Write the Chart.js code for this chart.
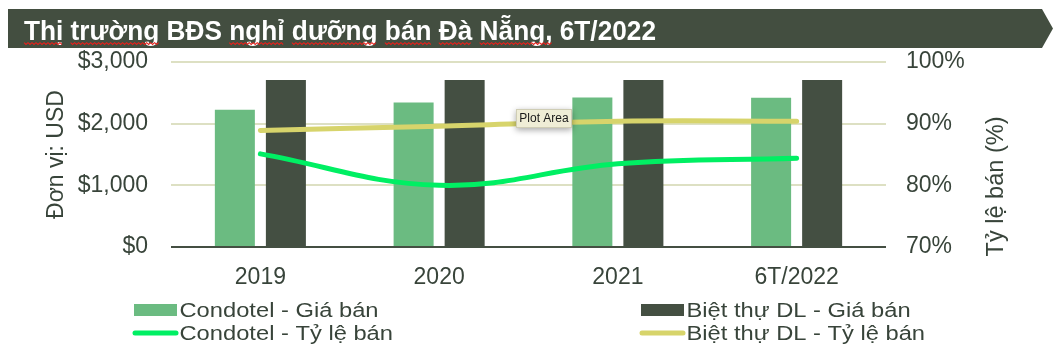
<!DOCTYPE html>
<html>
<head>
<meta charset="utf-8">
<script src="https://cdn.jsdelivr.net/npm/chart.js@4/dist/chart.umd.min.js"></script>
<style>
  html, body { margin: 0; padding: 0; background: #ffffff; }
  #wrap { width: 1063px; height: 361px; position: relative; }
</style>
</head>
<body>
<div id="wrap"><canvas id="c" width="1063" height="361"></canvas></div>
<script>
// ---- data ----
const titleText = 'Thị trường BĐS nghỉ dưỡng bán Đà Nẵng, 6T/2022';
const categories = ['2019', '2020', '2021', '6T/2022'];
const condotelPrice = [2225, 2345, 2425, 2420];
const villaPrice = [2710, 2710, 2710, 2710];
const condotelRate = [85.1, 80.0, 83.5, 84.4];
const villaRate = [88.9, 89.6, 90.4, 90.4];
const seriesLabels = ['Condotel - Giá bán', 'Biệt thự DL - Giá bán', 'Condotel - Tỷ lệ bán', 'Biệt thự DL - Tỷ lệ bán'];
const leftTickLabels = ['$0', '$1,000', '$2,000', '$3,000'];
const rightTickLabels = ['70%', '80%', '90%', '100%'];
const leftAxisTitle = 'Đơn vị: USD';
const rightAxisTitle = 'Tỷ lệ bán (%)';
const hoverNote = 'Plot Area';

// ---- styles ----
const FONT = "'Liberation Sans', Arial, sans-serif";
const TEXT = '#38443a';
const C_COND = '#6bbb81';
const C_VILLA = '#444f42';
const C_COND_LINE = '#00ef63';
const C_VILLA_LINE = '#d7d46b';
const C_GRID = '#dde0c3';

const decor = {
  id: 'decor',
  beforeDraw(chart) {
    const ctx = chart.ctx;
    ctx.save();
    // banner
    ctx.fillStyle = '#434e40';
    ctx.beginPath();
    ctx.moveTo(8, 9); ctx.lineTo(1042, 9); ctx.lineTo(1053, 28.5);
    ctx.lineTo(1042, 48); ctx.lineTo(8, 48); ctx.closePath(); ctx.fill();
    // title text (condensed)
    ctx.font = 'bold 28px ' + FONT;
    const w = ctx.measureText(titleText).width;
    const sx = 632 / w;
    ctx.save();
    ctx.translate(24, 39.5);
    ctx.scale(sx, 1);
    ctx.fillStyle = '#ffffff';
    ctx.textBaseline = 'alphabetic';
    ctx.textAlign = 'left';
    ctx.fillText(titleText, 0, 0);
    // spell-check squiggles under some words
    const words = titleText.split(' ');
    let x = 0;
    const sp = ctx.measureText(' ').width;
    const marked = [0, 1, 3, 4, 5, 6, 7];
    words.forEach((wd, i) => {
      const ww = ctx.measureText(wd).width;
      if (marked.includes(i)) {
        ctx.strokeStyle = '#e8211c';
        ctx.lineWidth = 1 / sx;
        ctx.beginPath();
        let up = true;
        for (let px = x; px <= x + ww; px += 2 / sx) {
          const yy = up ? 3.2 : 5;
          if (px === x) ctx.moveTo(px, yy); else ctx.lineTo(px, yy);
          up = !up;
        }
        ctx.stroke();
      }
      x += ww + sp;
    });
    ctx.restore();
    ctx.restore();
  },
  afterDraw(chart) {
    const ctx = chart.ctx;
    const ds = chart.data.datasets;
    ctx.save();
    // right axis title, bottom-to-top
    ctx.font = '23px ' + FONT;
    ctx.fillStyle = TEXT;
    const rw = ctx.measureText(rightAxisTitle).width;
    ctx.save();
    ctx.translate(1003, 186.5);
    ctx.rotate(-Math.PI / 2);
    ctx.scale(140 / rw, 1);
    ctx.textAlign = 'center';
    ctx.textBaseline = 'alphabetic';
    ctx.fillText(rightAxisTitle, 0, 0);
    ctx.restore();

    // legend (two columns)
    ctx.font = '20px ' + FONT;
    const lsx = 199 / ctx.measureText(ds[0].label).width;
    const items = [
      {d: ds[0], x: 134, y: 317, kind: 'box'},
      {d: ds[1], x: 641, y: 317, kind: 'box'},
      {d: ds[2], x: 134, y: 340, kind: 'line'},
      {d: ds[3], x: 641, y: 340, kind: 'line'}
    ];
    items.forEach(it => {
      if (it.kind === 'box') {
        ctx.fillStyle = it.d.backgroundColor;
        ctx.fillRect(it.x, it.y - 13, 43, 12);
      } else {
        ctx.strokeStyle = it.d.borderColor;
        ctx.lineWidth = 5;
        ctx.lineCap = 'round';
        ctx.beginPath();
        ctx.moveTo(it.x + 1, it.y - 7);
        ctx.lineTo(it.x + 42, it.y - 7);
        ctx.stroke();
      }
      ctx.save();
      ctx.translate(it.x + 45.5, it.y);
      ctx.scale(lsx, 1);
      ctx.fillStyle = TEXT;
      ctx.textAlign = 'left';
      ctx.textBaseline = 'alphabetic';
      ctx.fillText(it.d.label, 0, 0);
      ctx.restore();
    });

    // hover note box
    ctx.save();
    ctx.shadowColor = 'rgba(0,0,0,0.35)';
    ctx.shadowBlur = 6;
    ctx.shadowOffsetY = 2;
    ctx.fillStyle = '#efedd6';
    ctx.fillRect(516, 109, 56, 19);
    ctx.restore();
    ctx.strokeStyle = '#cfcdb5';
    ctx.lineWidth = 1;
    ctx.strokeRect(516.5, 109.5, 55, 18);
    ctx.font = '12px ' + FONT;
    ctx.fillStyle = '#1a1a1a';
    ctx.textAlign = 'center';
    ctx.textBaseline = 'middle';
    ctx.fillText(hoverNote, 544, 119);
    ctx.restore();
  }
};

new Chart(document.getElementById('c'), {
  data: {
    labels: categories,
    datasets: [
      {type: 'bar', label: seriesLabels[0], data: condotelPrice, backgroundColor: C_COND, yAxisID: 'y', order: 2,
       categoryPercentage: 0.571, barPercentage: 0.784},
      {type: 'bar', label: seriesLabels[1], data: villaPrice, backgroundColor: C_VILLA, yAxisID: 'y', order: 2,
       categoryPercentage: 0.571, barPercentage: 0.784},
      {type: 'line', label: seriesLabels[2], data: condotelRate, borderColor: C_COND_LINE, backgroundColor: C_COND_LINE,
       borderWidth: 5, pointRadius: 0, tension: 0.4, borderCapStyle: 'round', yAxisID: 'y1', order: 1},
      {type: 'line', label: seriesLabels[3], data: villaRate, borderColor: C_VILLA_LINE, backgroundColor: C_VILLA_LINE,
       borderWidth: 5, pointRadius: 0, tension: 0.4, borderCapStyle: 'round', yAxisID: 'y1', order: 1}
    ]
  },
  options: {
    responsive: false,
    animation: false,
    devicePixelRatio: 1,
    layout: {padding: {top: 62, left: 0, right: 0, bottom: 0}},
    plugins: {legend: {display: false}, tooltip: {enabled: false}, title: {display: false}},
    scales: {
      x: {
        grid: {display: false, drawTicks: false},
        border: {display: false},
        ticks: {color: TEXT, font: {family: FONT, size: 23}, padding: 17},
        afterFit(s) { s.height = 114; }
      },
      y: {
        position: 'left', min: 0, max: 3000,
        ticks: {stepSize: 1000, color: TEXT, font: {family: FONT, size: 23}, padding: 23,
          callback: (v) => leftTickLabels[Math.round(v / 1000)]},
        grid: {drawTicks: false, lineWidth: 2,
          color: (c) => (c.tick && c.tick.value === 0) ? '#444f42' : C_GRID},
        border: {display: false},
        title: {display: true, text: leftAxisTitle, color: TEXT, font: {family: FONT, size: 23}, padding: {top: 43, bottom: 0}},
        afterFit(s) { s.width = 171; }
      },
      y1: {
        position: 'right', min: 70, max: 100,
        ticks: {stepSize: 10, color: TEXT, font: {family: FONT, size: 23}, padding: 20,
          callback: (v) => rightTickLabels[Math.round((v - 70) / 10)]},
        grid: {display: false, drawTicks: false},
        border: {display: false},
        afterFit(s) { s.width = 177; }
      }
    }
  },
  plugins: [decor]
});
</script>
</body>
</html>
